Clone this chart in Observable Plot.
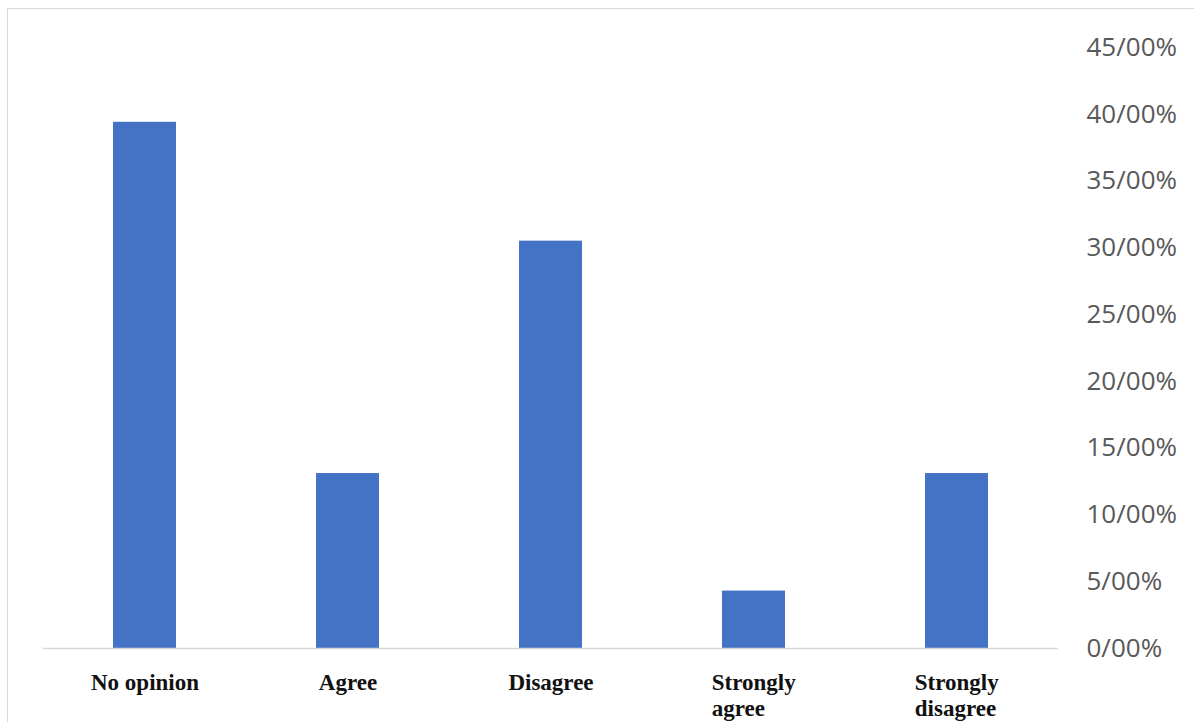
<!DOCTYPE html>
<html>
<head>
<meta charset="utf-8">
<script src="https://cdn.jsdelivr.net/npm/d3@7"></script>
<script src="https://cdn.jsdelivr.net/npm/@observablehq/plot@0.6"></script>
<style>
  html, body { margin: 0; padding: 0; background: #fff; overflow: hidden; }
  #frame {
    position: absolute; left: 7px; top: 8px; width: 1200px; height: 730px;
    border: 1.5px solid #d9d9d9; box-sizing: border-box;
  }
  #chart { position: absolute; left: 0; top: 0; }
</style>
</head>
<body>
<div id="frame"></div>
<div id="chart"></div>
<script>
// Survey answers and their share of respondents (percent)
const categories = ["No opinion", "Agree", "Disagree", "Strongly agree", "Strongly disagree"];
const shares = [39.4, 13.1, 30.5, 4.3, 13.1];
const yTicks = [0, 5, 10, 15, 20, 25, 30, 35, 40, 45];

const rows = categories.map((c, i) => ({category: c, share: shares[i]}));

const chart = Plot.plot({
  width: 1194,
  height: 722,
  marginLeft: 43,
  marginRight: 136,
  marginTop: 47,
  marginBottom: 74,
  style: {background: "transparent"},
  x: {domain: categories, paddingInner: 0.69, paddingOuter: 0.345, label: null},
  y: {domain: [0, 45], label: null},
  marks: [
    Plot.barY(rows, {x: "category", y: "share", fill: "#4472C4"}),
    Plot.ruleY([0], {stroke: "#d9d9d9", strokeWidth: 1.5}),
    Plot.axisY({
      anchor: "right",
      ticks: yTicks,
      tickSize: 0,
      tickPadding: 28,
      tickFormat: d => `${d}/00%`,
      fontSize: 26,
      fontFamily: "Open Sans",
      fill: "#595959",
      label: null
    }),
    Plot.axisX({
      anchor: "bottom",
      tickSize: 0,
      tickPadding: 23,
      tickFormat: d => d.replace(/^Strongly /, "Strongly\n"),
      fontSize: 23,
      fontWeight: "bold",
      fontFamily: "Liberation Serif",
      fill: "#111",
      lineHeight: 1.13,
      label: null
    })
  ]
});

document.getElementById("chart").append(chart);

// Two-line category labels: keep the block centred under the bar but
// align its lines on their left edge.
d3.select(chart).selectAll("g[aria-label='x-axis tick label'] text").each(function () {
  const spans = d3.select(this).selectAll("tspan");
  if (spans.size() < 2) return;
  const w = this.getBBox().width;
  d3.select(this).attr("text-anchor", "start");
  spans.attr("x", -w / 2);
});
</script>
</body>
</html>
